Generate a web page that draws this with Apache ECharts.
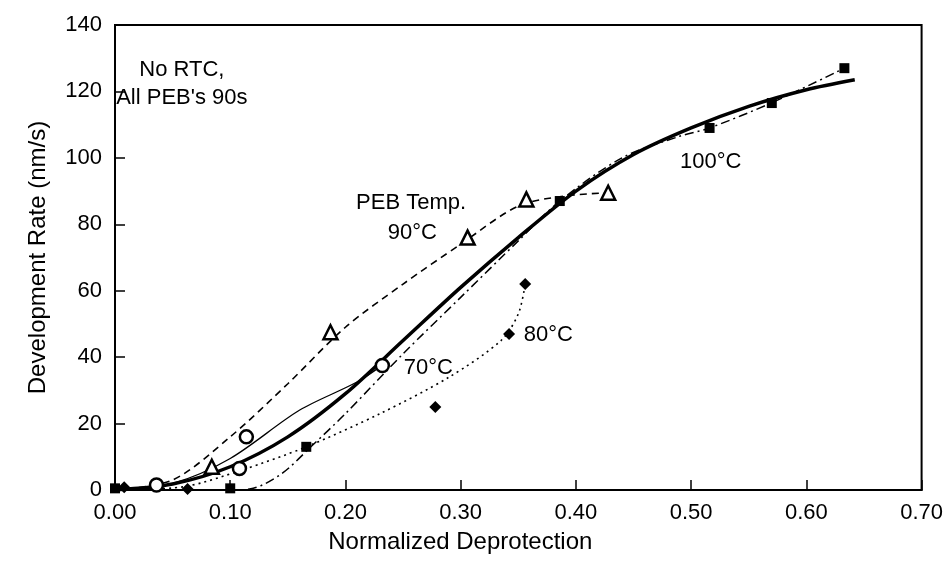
<!DOCTYPE html>
<html>
<head>
<meta charset="utf-8">
<script src="https://cdn.jsdelivr.net/npm/echarts@6/dist/echarts.min.js"></script>
<style>html,body{margin:0;padding:0;background:#fff}#c{width:946px;height:561px}</style>
</head>
<body>
<div id="c"></div>
<script>
// ---- data ----
const xTickValues = [0, 0.1, 0.2, 0.3, 0.4, 0.5, 0.6, 0.7];
const yTickValues = [0, 20, 40, 60, 80, 100, 120, 140];

// measured points
const pts100 = [[0.0, 0.5], [0.10, 0.5], [0.166, 13], [0.386, 87], [0.516, 109], [0.57, 116.5], [0.633, 127]];
const pts90 = [[0.084, 7], [0.187, 47.5], [0.306, 76], [0.357, 87.5], [0.428, 89.5]];
const pts70 = [[0.036, 1.5], [0.108, 6.5], [0.114, 16], [0.232, 37.5]];
const pts80 = [[0.008, 0.8], [0.063, 0.3], [0.278, 25], [0.342, 47], [0.356, 62]];

// fitted curves
const fitAll = [[0, 0], [0.05, 1.8], [0.1, 7], [0.15, 16], [0.2, 29], [0.25, 45], [0.3, 61], [0.35, 76], [0.4, 90], [0.45, 101], [0.5, 109], [0.55, 115.5], [0.6, 120.5], [0.642, 123.5]];
const fit90 = [[0, 0], [0.05, 3], [0.1, 16], [0.15, 32], [0.2, 49], [0.25, 62], [0.3, 74], [0.35, 85.5], [0.39, 88.5], [0.428, 89.5]];
const fit70 = [[0, 0], [0.05, 2], [0.1, 9.5], [0.16, 24], [0.21, 32.5], [0.232, 37.6]];
const fit80 = [[0, 0], [0.06, 1], [0.11, 6], [0.166, 13], [0.23, 23], [0.29, 34], [0.335, 45], [0.35, 53], [0.356, 62]];
const fit100 = [[0, 0], [0.1, 0], [0.12, 0.5], [0.145, 5], [0.17, 13], [0.2, 23], [0.25, 41], [0.3, 58], [0.35, 75], [0.386, 87], [0.44, 100], [0.49, 106.5], [0.516, 109], [0.57, 116.6], [0.633, 127]];

// annotations
const annoText = ['No RTC,', "All PEB's 90s", 'PEB Temp.', '90°C', '70°C', '80°C', '100°C'];
const annoX = [0.058, 0.058, 0.257, 0.258, 0.272, 0.376, 0.517];
const annoY = [126.5, 118, 86.4, 77.4, 36.7, 46.7, 98.8];

const FONT = "'Liberation Sans', Arial, Helvetica, sans-serif";

const chart = echarts.init(document.getElementById('c'), null, {renderer: 'canvas'});

function lineSeries(data, width, type) {
  return {
    type: 'line', data: data, showSymbol: false, smooth: 0.3,
    lineStyle: {color: '#000', width: width, type: type, opacity: 1}, silent: true, z: 2
  };
}
function markSeries(data, symbol, size, hollow) {
  return {
    type: 'scatter', data: data, symbol: symbol, symbolSize: size, silent: true, z: 5,
    itemStyle: hollow ? {color: '#fff', borderColor: '#000', borderWidth: 2.5, opacity: 1} : {color: '#000', opacity: 1}
  };
}

const option = {
  animation: false,
  backgroundColor: '#fff',
  grid: {left: 115, right: 24, top: 25, bottom: 71, show: true, borderColor: '#000', borderWidth: 2},
  xAxis: {
    type: 'value', min: 0, max: 0.7, interval: 0.1,
    name: 'Normalized Deprotection', nameLocation: 'middle', nameGap: 40,
    nameTextStyle: {fontFamily: FONT, fontSize: 24, color: '#000', padding: [0, 116, 0, 0]},
    axisLine: {show: true, lineStyle: {color: '#000', width: 2}},
    axisTick: {show: true, inside: true, length: 10, lineStyle: {color: '#000', width: 1.5}},
    axisLabel: {fontFamily: FONT, fontSize: 22, color: '#000', margin: 12,
      formatter: v => (xTickValues.indexOf(Math.round(v * 10) / 10) >= 0 ? v.toFixed(2) : '')},
    splitLine: {show: false}
  },
  yAxis: {
    type: 'value', min: 0, max: 140, interval: 20,
    name: 'Development Rate (nm/s)', nameLocation: 'middle', nameGap: 65,
    nameTextStyle: {fontFamily: FONT, fontSize: 24, color: '#000'},
    axisLine: {show: true, lineStyle: {color: '#000', width: 2}},
    axisTick: {show: true, inside: true, length: 10, lineStyle: {color: '#000', width: 1.5}},
    axisLabel: {fontFamily: FONT, fontSize: 22, color: '#000', margin: 13,
      formatter: v => (yTickValues.indexOf(v) >= 0 ? String(v) : '')},
    splitLine: {show: false}
  },
  series: [
    lineSeries(fit90, 1.6, [7, 5]),
    lineSeries(fit80, 1.6, [2, 4]),
    lineSeries(fit70, 1.3, 'solid'),
    lineSeries(fit100, 1.5, [9, 4, 2, 4]),
    lineSeries(fitAll, 3.5, 'solid'),
    markSeries(pts100, 'rect', 10, false),
    markSeries(pts80, 'diamond', 12, false),
    markSeries(pts90, 'triangle', 14, true),
    markSeries(pts70, 'circle', 13, true),
    {
      type: 'scatter', symbolSize: 0, silent: true, z: 10,
      itemStyle: {opacity: 1, color: '#000'},
      data: annoText.map((t, i) => ({name: t, value: [annoX[i], annoY[i]]})),
      label: {show: true, position: 'inside', formatter: p => p.name,
        fontFamily: FONT, fontSize: 22, color: '#000', opacity: 1}
    }
  ]
};
chart.setOption(option);
</script>
</body>
</html>
